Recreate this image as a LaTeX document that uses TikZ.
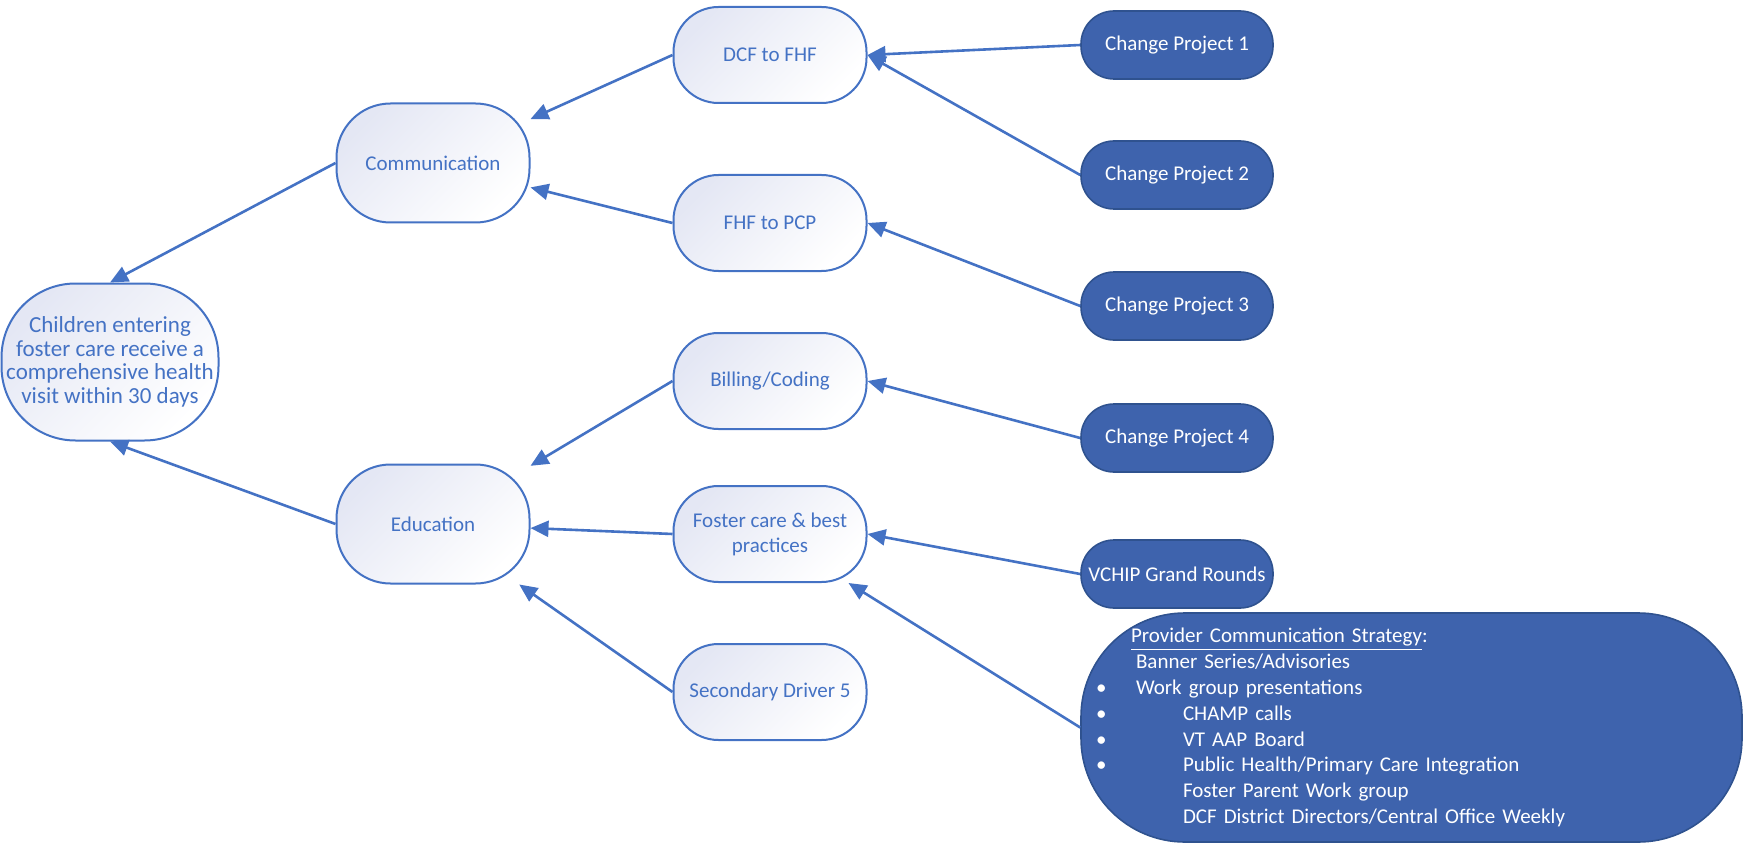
\documentclass[tikz,border=0pt]{standalone}
\usepackage{fontspec}
\setmainfont{Carlito}
\usetikzlibrary{arrows.meta,shapes.misc}
\definecolor{linec}{HTML}{4472C4}
\definecolor{txtc}{HTML}{4472C4}
\definecolor{darkf}{HTML}{3E63AD}
\definecolor{darkb}{HTML}{2F528F}
\definecolor{lav}{HTML}{E4E7F4}
\tikzset{
  lightbox/.style={rectangle, draw=linec, line width=1pt, top color=lav, bottom color=white, shading angle=45,
    text=txtc, font=\fontsize{10.5}{12.5}\selectfont, align=center, inner sep=0pt},
  mid/.style={lightbox, minimum width=96.5pt, minimum height=48pt, rounded corners=22.5pt},
  drv/.style={lightbox, minimum width=96.5pt, minimum height=59.5pt, rounded corners=27pt},
  darkbox/.style={rectangle, draw=darkb, line width=0.8pt, fill=darkf, text=white,
    font=\fontsize{10.5}{12.9}\selectfont, inner sep=0pt},
  cp/.style={darkbox, minimum width=96pt, minimum height=34pt, rounded corners=16.5pt, align=center},
  arr/.style={draw=linec, line width=1.3pt, -{Triangle[length=9pt,width=8pt]}}
}
\begin{document}
\begin{tikzpicture}[x=0.5pt,y=-0.5pt]
\useasboundingbox (0,0) rectangle (1744,850);
% root
\node[lightbox, minimum width=108.5pt, minimum height=78.5pt, rounded corners=37pt,
  font=\fontsize{11.5}{11.8}\selectfont] (root) at (110,362)
  {Children entering\\foster care receive a\\comprehensive health\\visit within 30 days};
% primary drivers
\node[drv] (comm) at (433,163) {Communication};
\node[drv] (edu) at (433,524) {Education};
% secondary drivers
\node[mid] (dcf) at (770,55) {DCF to FHF};
\node[mid] (fhf) at (770,223) {FHF to PCP};
\node[mid] (bill) at (770,381) {Billing/Coding};
\node[mid] (fost) at (770,534) {Foster care \& best\\practices};
\node[mid] (sd5) at (770,692) {Secondary Driver 5};
% change ideas
\node[cp] (cp1) at (1177,45) {Change Project 1};
\node[cp] (cp2) at (1177,175) {Change Project 2};
\node[cp] (cp3) at (1177,306) {Change Project 3};
\node[cp] (cp4) at (1177,438) {Change Project 4};
\node[cp] (vchip) at (1177,574) {VCHIP Grand Rounds};
\node[darkbox, minimum width=330.5pt, minimum height=114.5pt, rounded corners=52pt,
  text width=315.5pt, align=left] (big) at (1411.5,727.5)
  {\makebox[17.5pt][l]{}\underline{Provider Communication Strategy}:\\
   \makebox[20pt][l]{}Banner Series/Advisories\\
   \makebox[20pt][l]{•}Work group presentations\\
   \makebox[43.5pt][l]{•}CHAMP calls\\
   \makebox[43.5pt][l]{•}VT AAP Board\\
   \makebox[43.5pt][l]{•}Public Health/Primary Care Integration\\
   \makebox[43.5pt][l]{}Foster Parent Work group\\
   \makebox[43.5pt][l]{}DCF District Directors/Central Office Weekly};
% connectors
\draw[arr] (comm.west) -- (root.north);
\draw[arr] (edu.west) -- (root.south);
\draw[arr] (dcf.west) -- (comm);
\draw[arr] (fhf.west) -- (comm);
\draw[arr] (bill.west) -- (edu);
\draw[arr] (fost.west) -- (edu);
\draw[arr] (sd5.west) -- (edu);
\draw[arr] (cp1.west) -- (dcf.east);
\draw[arr] (cp2.west) -- (dcf.east);
\draw[arr] (cp3.west) -- (fhf.east);
\draw[arr] (cp4.west) -- (bill.east);
\draw[arr] (vchip.west) -- (fost.east);
\draw[arr] (big.west) -- (fost);
\end{tikzpicture}
\end{document}
